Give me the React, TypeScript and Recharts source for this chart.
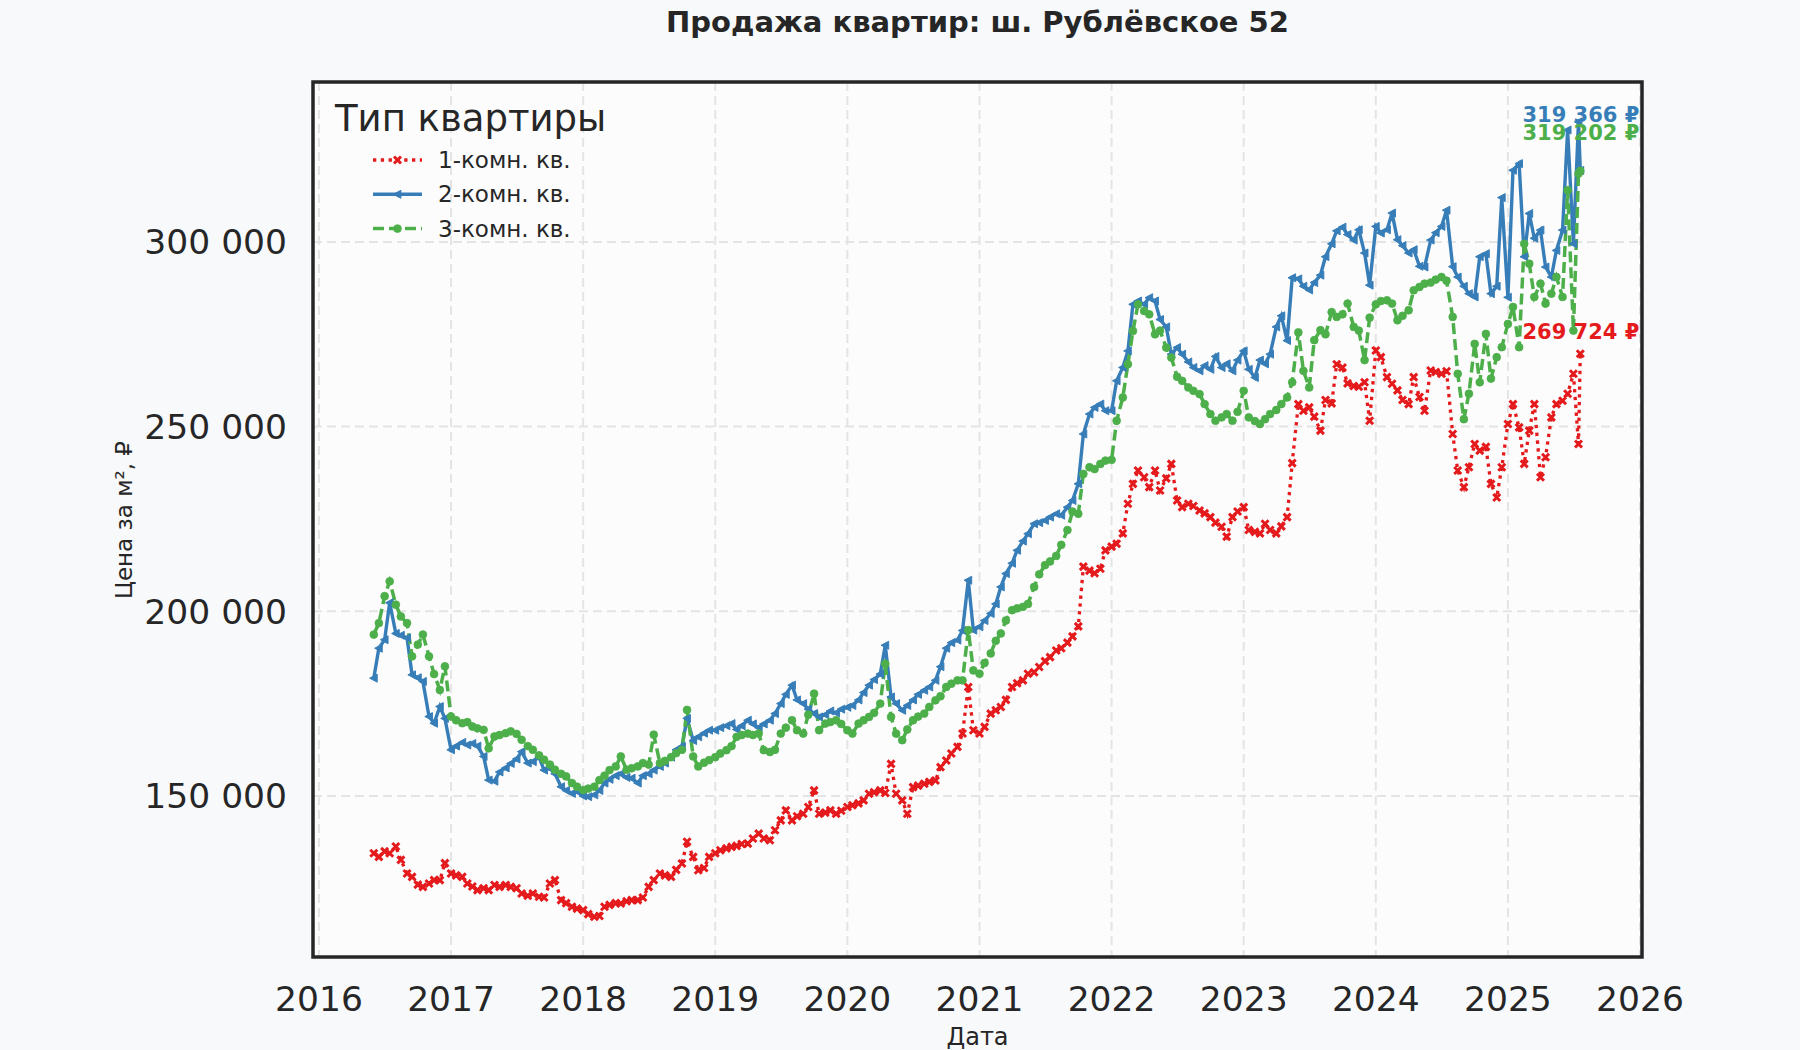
import React from 'react';
import { LineChart, Line, XAxis, YAxis, CartesianGrid, ReferenceDot, ReferenceArea } from 'recharts';

const TITLE = 'Продажа квартир: ш. Рублёвское 52';
const X_LABEL = 'Дата';
const Y_LABEL = 'Цена за м², ₽';
const LEGEND_TITLE = 'Тип квартиры';

const SERIES_NAMES = ['1-комн. кв.', '2-комн. кв.', '3-комн. кв.'];
const SERIES_COLORS = ['#e41a1c', '#377eb8', '#4daf4a'];

const YEAR_TICKS = [2016, 2017, 2018, 2019, 2020, 2021, 2022, 2023, 2024, 2025, 2026];
const PRICE_TICKS = [150000, 200000, 250000, 300000];
const X_DOMAIN = [2015.955, 2026.015];
const Y_DOMAIN = [106400, 343300];

// observations on the 1st and 15th of each month, June 2016 – July 2025, then one last reading
const FIRST_MONTH = '2016-06';
const LAST_MONTH = '2025-07';
const EXTRA_DATES = ['2025-07-20'];

// 1-комн. кв.
const ROOM1 = [
  134500, 133500, 135000, 134500, 136300, 132700, 129000, 128100, 126000, 125400, 126300, 127200, 127200, 131800,
  129000, 128500, 128100, 126300, 125500, 124500, 125000, 124500, 125900, 125400, 125900, 125400, 125000, 123600, 123000, 123600, 122700, 122500, 126300, 127200, 121800, 121000, 120000, 119500,
  119100, 118000, 117300, 117500, 120000, 120500, 121000, 120900, 121500, 121800, 121800, 122500, 125400, 127200, 129000, 128500, 128100, 130000, 131700, 137600, 133500, 129900, 130500, 133500,
  134500, 135300, 135800, 136200, 136500, 137000, 137100, 138500, 139800, 138500, 138000, 140700, 143400, 146100, 143400, 144500, 145200, 147000, 151500, 145200, 145500, 146100, 145200, 146000,
  147000, 147500, 148000, 148800, 150600, 151000, 151500, 150800, 158700, 150600, 148800, 145200, 152400, 152800, 153300, 153800, 154200, 157800, 159600, 161500, 163300, 166900, 179500, 167800,
  166900, 168700, 172300, 173200, 174100, 176000, 179500, 180500, 181300, 183100, 183500, 184900, 186500, 187600, 189400, 190000, 191500, 193200, 195900, 212100, 211000, 210300, 211500, 216500,
  217500, 218300, 221100, 229100, 234500, 238100, 236300, 233600, 238100, 232700, 236000, 239900, 230000, 228200, 229100, 228500, 227300, 226500, 225500, 224000, 222900, 220200, 225500, 227000,
  228200, 222000, 221500, 221100, 223700, 222000, 221100, 223000, 225500, 240100, 256100, 254300, 255200, 252700, 248900, 257200, 256300, 266900, 266000, 261700, 261000, 260800, 262000, 251600,
  270600, 268800, 263400, 261600, 259800, 257200, 256100, 263400, 258000, 254300, 265200, 264800, 264300, 265000, 248000, 238100, 233600, 239000, 245300, 243500, 244500, 234500, 230800, 239000,
  250700, 256100, 249800, 239900, 248900, 256100, 236300, 241700, 252500, 256100, 257000, 258900, 264300, 245300, 269724,
];

// 2-комн. кв.
const ROOM2 = [
  181900, 190000, 192300, 202300, 194000, 193500, 192800, 182800, 182000, 181000, 171500, 169700, 174200, 171000,
  162500, 163500, 164500, 163800, 164200, 163500, 160700, 154300, 154000, 156500, 157600, 158800, 160000, 162000, 158900, 159300, 160500, 157000, 157500, 156000, 152500, 151500, 150700, 151200,
  150000, 149800, 150300, 151500, 153500, 154500, 155500, 156000, 155000, 154800, 153500, 155500, 156000, 157000, 158000, 158900, 160500, 162500, 163400, 171000, 165000, 166000, 167000, 167800,
  167800, 168500, 169000, 169600, 168000, 169000, 170500, 169500, 168500, 169500, 170500, 172300, 175000, 177500, 180000, 176000, 175000, 173500, 172300, 171400, 172000, 173000, 172500, 173500,
  174000, 174500, 176000, 178000, 180000, 181500, 183000, 190800, 176800, 175000, 173200, 174500, 176000, 177500, 178600, 179500, 181300, 185000, 190000, 191500, 192200, 194800, 208400, 194900,
  195800, 197500, 199400, 202000, 206600, 210200, 213000, 216500, 219000, 221000, 223700, 224000, 224600, 225500, 226400, 226000, 228200, 230000, 234500, 248000, 253400, 255200, 256100, 254300,
  254300, 262400, 266000, 270500, 283100, 284000, 283100, 284900, 284000, 279000, 277000, 269600, 271400, 269600, 267500, 266000, 265100, 266500, 265500, 269000, 266000, 267000, 265100, 268000,
  270500, 265500, 263300, 268000, 267000, 269600, 277000, 280000, 273300, 290300, 290000, 288000, 287000, 289000, 291000, 296000, 299500, 303000, 304000, 302000, 300500, 303300, 297000, 288300,
  304200, 302400, 303300, 307800, 300600, 299000, 297000, 297900, 293400, 293200, 300500, 302500, 304200, 308600, 293300, 290500, 288000, 286000, 285100, 296000, 296800, 286000, 288000, 312000,
  285000, 319400, 321200, 296000, 307700, 301000, 303200, 293200, 290500, 297700, 303200, 330300, 299500, 332500, 319366,
];

// 3-комн. кв.
const ROOM3 = [
  193700, 196800, 204100, 208100, 201800, 198600, 196800, 187800, 191000, 193700, 187800, 183000, 178700, 185100,
  171500, 170500, 169700, 170000, 168800, 168300, 167900, 162900, 166100, 166500, 167000, 167500, 166800, 165200, 163500, 162500, 161000, 159800, 158500, 157100, 156000, 155300, 153500, 152500,
  151600, 152000, 152500, 154300, 155500, 157000, 158000, 160700, 157100, 157500, 158000, 158900, 158500, 166600, 158900, 159500, 160500, 161600, 162500, 173300, 160700, 158000, 159000, 159700,
  160500, 161500, 162400, 163500, 166000, 166500, 166900, 166500, 166900, 162400, 161900, 162500, 166900, 168500, 170500, 167800, 166900, 172000, 177700, 167800, 169600, 170000, 170500, 169500,
  167800, 166900, 169600, 170500, 171400, 172500, 175000, 185800, 171400, 166900, 165100, 168000, 170500, 171500, 172300, 174100, 175900, 177000, 179500, 180400, 181300, 181300, 194900, 184000,
  183100, 186000, 188600, 192000, 194000, 197500, 200300, 200800, 201200, 202000, 206600, 210000, 212500, 213500, 215000, 218000, 222000, 227000, 226400, 237200, 239000, 238500, 239900, 240800,
  241000, 251600, 257900, 266900, 275900, 283100, 281300, 280400, 275000, 276000, 271400, 268700, 263500, 262400, 260600, 259700, 258800, 256100, 253400, 251600, 252500, 253400, 251600, 254000,
  259700, 252500, 251500, 250700, 252000, 253400, 254500, 256100, 257900, 262000, 275500, 265100, 260600, 273400, 276100, 275000, 281000, 279700, 280400, 283300, 277000, 276000, 268000, 279500,
  283100, 284000, 284200, 283300, 278800, 280000, 281500, 286900, 287800, 288700, 289000, 289800, 290500, 289500, 279700, 264300, 252000, 258900, 272400, 262000, 275100, 263000, 268800, 271500,
  277800, 282400, 271500, 299500, 294100, 285100, 288700, 283300, 286000, 290500, 285100, 314000, 276000, 318500, 319202,
];

const FONT = '"DejaVu Sans", sans-serif';
const INK = '#262626';

const halfMonthDates = (from: string, to: string) => {
  const out: string[] = [];
  let [y, m] = from.split('-').map(Number);
  const [ty, tm] = to.split('-').map(Number);
  while (y < ty || (y === ty && m <= tm)) {
    const mm = String(m).padStart(2, '0');
    out.push(`${y}-${mm}-01`, `${y}-${mm}-15`);
    m += 1;
    if (m > 12) { m = 1; y += 1; }
  }
  return out;
};

const toYear = (d: string) => {
  const [y, m, day] = d.split('-').map(Number);
  const start = Date.UTC(y, 0, 1);
  const end = Date.UTC(y + 1, 0, 1);
  return y + (Date.UTC(y, m - 1, day) - start) / (end - start);
};

const DATES = [...halfMonthDates(FIRST_MONTH, LAST_MONTH), ...EXTRA_DATES];
const data = DATES.map((d, i) => ({ t: toYear(d), r1: ROOM1[i], r2: ROOM2[i], r3: ROOM3[i] }));
const lastValues = [ROOM1[ROOM1.length - 1], ROOM2[ROOM2.length - 1], ROOM3[ROOM3.length - 1]];

const fmt = (v: number) => String(v).replace(/\B(?=(\d{3})+(?!\d))/g, ' ');

// markers: filled X, left triangle, circle
const marker = (kind: number, cx: number, cy: number, key?: React.Key) => {
  const c = SERIES_COLORS[kind];
  if (kind === 0) {
    const s = 3.5;
    return (
      <path key={key} d={`M${cx - s},${cy - s}L${cx + s},${cy + s}M${cx - s},${cy + s}L${cx + s},${cy - s}`}
        stroke={c} strokeWidth={3} strokeDasharray="none" fill="none" />
    );
  }
  if (kind === 1) {
    return (
      <polygon key={key} points={`${cx - 4.2},${cy} ${cx + 3.4},${cy - 4} ${cx + 3.4},${cy + 4}`}
        fill={c} stroke={c} strokeWidth={1} strokeDasharray="none" />
    );
  }
  return <circle key={key} cx={cx} cy={cy} r={3.9} fill={c} stroke={c} strokeWidth={0.8} strokeDasharray="none" />;
};

const dotFor = (kind: number) => (props: any) => {
  const { cx, cy, index } = props;
  if (cx == null || cy == null) return <g key={`e-${kind}-${index}`} />;
  return marker(kind, cx, cy, `m-${kind}-${index}`);
};

const LINE_STYLES = [
  { key: 'r1', width: 3.3, dash: '3.3 4.5' },
  { key: 'r2', width: 3.4, dash: undefined },
  { key: 'r3', width: 3.5, dash: '11 5' },
];

const LABEL_OFFSETS = [-22, -55, -38];

const endLabel = (kind: number) => (props: any) => {
  const vb = props.viewBox || {};
  const x = (vb.x ?? 0) + (vb.width ?? 0) / 2;
  const y = (vb.y ?? 0) + (vb.height ?? 0) / 2 + LABEL_OFFSETS[kind];
  return (
    <text x={x} y={y} textAnchor="end" dominantBaseline="central" fill={SERIES_COLORS[kind]}
      fontFamily={FONT} fontWeight="bold" fontSize={21}>
      {`${fmt(lastValues[kind])} ₽`}
    </text>
  );
};

export default function App() {
  return (
    <div style={{ position: 'absolute', left: 0, top: 0, width: 1800, height: 1050, background: '#f7f9fb', fontFamily: FONT }}>
      <LineChart width={1800} height={1050} data={data} margin={{ top: 82, right: 158, bottom: 0, left: 0 }}>
        <CartesianGrid stroke="#e4e4e4" strokeWidth={2} strokeDasharray="9 5" fill="#fcfcfd"
          horizontalValues={PRICE_TICKS} verticalValues={YEAR_TICKS} />
        <XAxis dataKey="t" type="number" domain={X_DOMAIN} ticks={YEAR_TICKS} interval={0} allowDataOverflow
          height={93} tickSize={0} tickMargin={30} axisLine={false} tickLine={false}
          tick={{ fill: INK, fontSize: 34.5, fontFamily: FONT }} />
        <YAxis type="number" domain={Y_DOMAIN} ticks={PRICE_TICKS} interval={0} allowDataOverflow
          width={313} tickSize={0} tickMargin={26} axisLine={false} tickLine={false} tickFormatter={fmt}
          tick={{ fill: INK, fontSize: 34.5, fontFamily: FONT }} />
        {LINE_STYLES.map((s, i) => (
          <Line key={s.key} type="linear" dataKey={s.key} name={SERIES_NAMES[i]} stroke={SERIES_COLORS[i]}
            strokeWidth={s.width} strokeDasharray={s.dash} dot={dotFor(i)} activeDot={false}
            isAnimationActive={false} />
        ))}
        {lastValues.map((v, i) => (
          <ReferenceDot key={`lbl-${i}`} x={X_DOMAIN[1] - 0.02} y={v} r={0} fill="none" stroke="none"
            label={endLabel(i)} />
        ))}
        <ReferenceArea x1={X_DOMAIN[0]} x2={X_DOMAIN[1]} y1={Y_DOMAIN[0]} y2={Y_DOMAIN[1]}
          fill="none" fillOpacity={0} stroke={INK} strokeWidth={3.5} />
      </LineChart>
      <svg width={1800} height={1050} style={{ position: 'absolute', left: 0, top: 0, pointerEvents: 'none' }}>
        <text x={977.5} y={32} textAnchor="middle" fill={INK} fontFamily={FONT} fontWeight="bold" fontSize={29}>{TITLE}</text>
        <text x={977.5} y={1045} textAnchor="middle" fill={INK} fontFamily={FONT} fontSize={24}>{X_LABEL}</text>
        <text transform="translate(124,520) rotate(-90)" textAnchor="middle" dominantBaseline="central"
          fill={INK} fontFamily={FONT} fontSize={23}>{Y_LABEL}</text>
        <text x={335} y={131} fill={INK} fontFamily={FONT} fontSize={37}>{LEGEND_TITLE}</text>
        {SERIES_NAMES.map((name, i) => {
          const y = 160 + i * 34.3;
          const s = LINE_STYLES[i];
          return (
            <g key={name}>
              <line x1={373} x2={422} y1={y} y2={y} stroke={SERIES_COLORS[i]} strokeWidth={s.width}
                strokeDasharray={s.dash} />
              {marker(i, 397.5, y)}
              <text x={438} y={y} dominantBaseline="central" fill={INK} fontFamily={FONT} fontSize={23}>{name}</text>
            </g>
          );
        })}
      </svg>
    </div>
  );
}
